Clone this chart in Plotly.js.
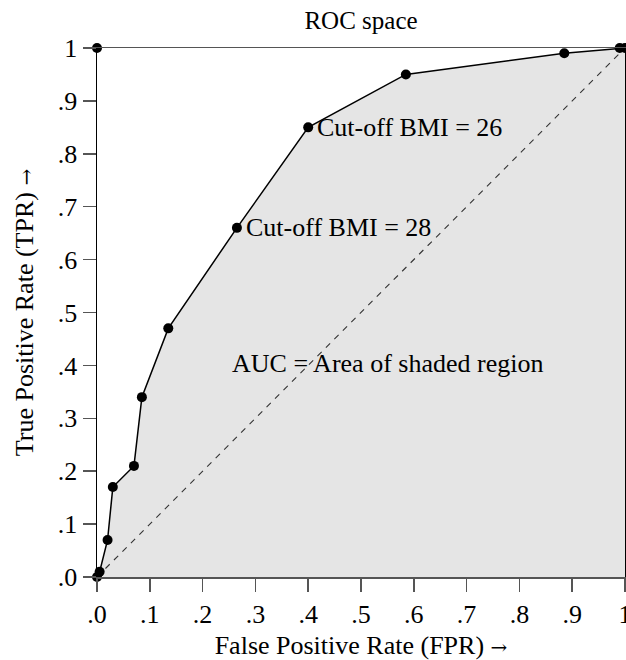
<!DOCTYPE html>
<html>
<head>
<meta charset="utf-8">
<script src="https://cdn.plot.ly/plotly-3.0.1.min.js"></script>
<style>html,body{margin:0;padding:0;background:#fff;}#chart{width:626px;height:660px;}</style>
</head>
<body>
<div id="chart"></div>
<script>
// ROC curve points (FPR, TPR)
const fpr = [0, 0.005, 0.02, 0.03, 0.07, 0.085, 0.135, 0.265, 0.40, 0.585, 0.885, 0.99, 1.0];
const tpr = [0, 0.01, 0.07, 0.17, 0.21, 0.34, 0.47, 0.66, 0.85, 0.95, 0.99, 1.0, 1.0];
// perfect classification point
const perfectX = [0];
const perfectY = [1];
// chance diagonal
const diagX = [0, 1];
const diagY = [0, 1];
// labelled cut-offs
const cutLabels = ["Cut-off BMI = 26", "Cut-off BMI = 28"];
const cutX = [0.40, 0.265];
const cutY = [0.85, 0.66];
const aucText = "AUC = Area of shaded region";
const aucX = 0.252, aucY = 0.404;
// tick labels
const tickVals = [0, 0.1, 0.2, 0.3, 0.4, 0.5, 0.6, 0.7, 0.8, 0.9, 1];
const tickText = [".0", ".1", ".2", ".3", ".4", ".5", ".6", ".7", ".8", ".9", "1"];

const FONT = "Liberation Serif, Times New Roman, serif";
const ARROW = "<span style='font-family:DejaVu Serif;font-size:20px'>→</span>";

const traces = [
  {x: fpr, y: tpr, type: "scatter", mode: "lines", fill: "tozeroy",
   fillcolor: "#e5e5e5", line: {width: 0, color: "rgba(0,0,0,0)"}, hoverinfo: "skip", showlegend: false},
  {x: diagX, y: diagY, type: "scatter", mode: "lines",
   line: {color: "#333", width: 1.1, dash: "6px,6px"}, showlegend: false},
  {x: fpr, y: tpr, type: "scatter", mode: "lines+markers", cliponaxis: false,
   line: {color: "#000", width: 1.5}, marker: {color: "#000", size: 10}, showlegend: false},
  {x: perfectX, y: perfectY, type: "scatter", mode: "markers", cliponaxis: false,
   marker: {color: "#000", size: 10}, showlegend: false}
];

const annotations = cutLabels.map((t, i) => ({
  x: cutX[i], y: cutY[i], xref: "x", yref: "y", text: t, showarrow: false,
  xanchor: "left", yanchor: "middle", xshift: 7, font: {family: FONT, size: 26, color: "#000"}
}));
annotations.push({x: aucX, y: aucY, xref: "x", yref: "y", text: aucText, showarrow: false,
  xanchor: "left", yanchor: "middle", font: {family: FONT, size: 26, color: "#000"}});

const axisCommon = {
  range: [0, 1], tickmode: "array", tickvals: tickVals, ticktext: tickText,
  ticks: "outside", ticklen: 13, tickwidth: 1.5, tickcolor: "#555",
  showgrid: false, zeroline: false, showline: true, linewidth: 1.5, mirror: true,
  ticklabeloverflow: "allow",
  tickfont: {family: FONT, size: 26, color: "#000"}, automargin: false, fixedrange: true
};

const layout = {
  width: 626, height: 660,
  margin: {l: 97, r: 1.3, t: 47.5, b: 83.3},
  paper_bgcolor: "#fff", plot_bgcolor: "#fff",
  font: {family: FONT, color: "#000"},
  title: {text: "ROC space", font: {family: FONT, size: 25, color: "#000"},
          x: 0.5, xref: "paper", xanchor: "center", y: 0.97, yref: "container", yanchor: "middle"},
  xaxis: Object.assign({}, axisCommon, {linecolor: "#555",
    title: {text: "False Positive Rate (FPR) " + ARROW, font: {family: FONT, size: 26, color: "#000"}, standoff: 12}}),
  yaxis: Object.assign({}, axisCommon, {linecolor: "#000",
    title: {text: "True Positive Rate (TPR) " + ARROW, font: {family: FONT, size: 26, color: "#000"}, standoff: 16}}),
  annotations: annotations,
  showlegend: false
};

Plotly.newPlot("chart", traces, layout, {displayModeBar: false, staticPlot: true});
</script>
</body>
</html>
